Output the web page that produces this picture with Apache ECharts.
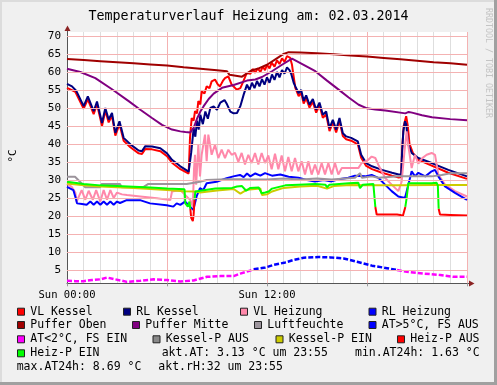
<!DOCTYPE html>
<html><head><meta charset="utf-8">
<script src="https://cdn.jsdelivr.net/npm/echarts@6/dist/echarts.min.js"></script>
<style>html,body{margin:0;padding:0;background:#F0F0F0}#c{width:497px;height:385px}</style>
</head><body><div id="c"></div>
<script>
// ---- data (x = hour of day, y = °C) ----
const yTicks = [5,10,15,20,25,30,35,40,45,50,55,60,65,70];
const xTickLabels = {0:'Sun 00:00', 12:'Sun 12:00'};
const title = 'Temperaturverlauf Heizung am: 02.03.2014';

const vlKessel = [[0,55.6],[0.5,54.5],[1.0,49.8],[1.25,52.4],[1.6,48.3],[1.8,51.0],[2.1,45.0],[2.3,49.2],[2.5,46.0],[2.7,47.8],[2.9,42.3],[3.15,45.5],[3.4,40.9],[3.8,39.1],[4.3,37.4],[4.5,37.2],[4.7,38.6],[5.1,38.5],[5.6,38.0],[6.0,36.6],[6.3,34.8],[6.8,33.0],[7.3,31.8],[7.35,32.0],[7.38,41.7],[7.48,47.2],[7.6,46.5],[7.68,49.1],[7.8,48.5],[7.88,51.9],[8.0,51.0],[8.08,54.6],[8.25,54.0],[8.38,56.0],[8.55,55.5],[8.68,57.4],[8.88,57.9],[9.05,56.5],[9.18,56.0],[9.35,57.5],[9.48,58.3],[9.68,58.8],[9.88,56.5],[10.18,55.1],[10.4,55.5],[10.58,57.4],[10.78,59.7],[11.0,59.5],[11.15,60.8],[11.28,59.8],[11.45,61.0],[11.6,60.0],[11.75,61.5],[11.88,60.5],[12.0,62.0],[12.15,61.0],[12.28,62.6],[12.45,61.5],[12.6,63.2],[12.75,62.2],[12.9,63.8],[13.05,62.8],[13.2,64.4],[13.38,64.0],[13.5,62.0],[13.58,59.3],[13.7,55.6],[13.9,53.3],[14.05,54.2],[14.2,51.2],[14.35,52.7],[14.55,50.1],[14.75,51.7],[14.95,48.7],[15.15,50.7],[15.35,47.3],[15.55,48.2],[15.75,43.6],[15.95,45.9],[16.15,43.2],[16.35,46.4],[16.55,42.2],[16.75,41.3],[17.05,40.9],[17.45,39.9],[17.65,36.2],[17.95,33.9],[18.3,33.0],[18.9,32.0],[19.5,31.2],[19.9,30.7],[20.05,30.8],[20.1,38.0],[20.2,45.0],[20.35,47.7],[20.45,45.0],[20.55,40.0],[20.75,37.5],[21.08,35.6],[21.88,34.0],[22.88,32.0],[24,30.3]];

const rlKessel = [[0,56.7],[0.3,56.0],[0.55,54.8],[1.0,50.5],[1.25,53.2],[1.6,49.1],[1.8,51.8],[2.1,45.8],[2.3,50.0],[2.5,46.8],[2.7,48.6],[2.9,43.1],[3.15,46.3],[3.4,41.7],[3.8,39.9],[4.3,38.2],[4.5,38.0],[4.7,39.4],[5.1,39.3],[5.6,38.8],[6.0,37.4],[6.3,35.6],[6.8,33.8],[7.3,32.3],[7.35,32.2],[7.45,37.5],[7.6,44.4],[7.7,42.0],[7.8,46.5],[7.9,44.0],[8.0,48.1],[8.15,45.5],[8.3,49.0],[8.45,47.0],[8.6,50.0],[8.8,50.4],[9.0,49.5],[9.2,51.5],[9.45,52.2],[9.6,51.0],[9.8,49.0],[10.0,48.5],[10.2,48.6],[10.4,50.5],[10.6,53.7],[10.8,56.5],[10.95,55.0],[11.1,57.0],[11.25,55.5],[11.4,57.5],[11.55,56.0],[11.7,58.0],[11.85,56.5],[12.0,58.5],[12.15,57.0],[12.3,59.3],[12.45,57.8],[12.6,60.0],[12.75,58.5],[12.9,60.5],[13.05,59.5],[13.2,61.3],[13.35,60.5],[13.45,59.5],[13.6,57.0],[13.7,56.0],[13.9,54.1],[14.05,55.0],[14.2,52.0],[14.35,53.5],[14.55,50.9],[14.75,52.5],[14.95,49.5],[15.15,51.5],[15.35,48.1],[15.55,49.0],[15.75,44.4],[15.95,46.7],[16.15,44.0],[16.35,47.2],[16.55,43.0],[16.75,42.1],[17.05,41.7],[17.45,40.7],[17.65,37.0],[17.95,34.7],[18.3,33.8],[18.9,32.8],[19.5,32.0],[19.9,31.5],[20.05,31.5],[20.1,37.0],[20.18,43.5],[20.28,46.3],[20.35,45.5],[20.48,39.8],[20.68,37.5],[21.08,36.1],[21.88,34.7],[22.88,32.8],[24,31.0]];

const vlHeizung = [[0,29.0],[0.28,28.1],[0.5,26.5],[0.58,24.0],[0.88,27.2],[1.1,24.5],[1.3,27.0],[1.55,24.5],[1.75,27.2],[2.0,24.0],[2.2,27.2],[2.4,24.5],[2.6,27.2],[2.8,25.0],[3.0,26.5],[3.3,26.0],[3.6,25.8],[4.4,25.4],[5.4,24.9],[6.2,24.4],[6.3,26.8],[6.8,27.2],[7.1,25.8],[7.4,24.4],[7.55,22.6],[7.62,33.0],[7.68,37.0],[7.75,28.7],[7.88,39.8],[7.98,31.0],[8.08,37.0],[8.28,42.6],[8.38,35.2],[8.48,42.6],[8.68,37.0],[8.88,39.8],[9.08,36.1],[9.28,38.4],[9.48,36.1],[9.68,38.4],[9.88,37.0],[10.08,37.5],[10.28,35.0],[10.48,37.5],[10.68,34.3],[10.88,37.0],[11.08,34.7],[11.28,37.5],[11.48,34.3],[11.68,37.5],[11.88,34.7],[12.08,36.8],[12.28,33.0],[12.48,37.3],[12.68,33.0],[12.88,36.8],[13.08,32.4],[13.28,36.4],[13.48,32.4],[13.68,36.1],[13.88,32.4],[14.08,35.2],[14.28,31.5],[14.48,35.2],[14.68,31.5],[14.88,34.3],[15.08,31.5],[15.28,34.7],[15.48,31.5],[15.68,34.7],[15.88,31.5],[16.08,34.7],[16.28,31.5],[16.48,33.3],[17.08,33.3],[17.48,33.3],[17.68,34.7],[18.08,35.6],[18.28,36.5],[18.5,36.1],[18.7,34.0],[19.08,30.6],[19.48,28.7],[19.88,26.9],[20.08,29.5],[20.25,38.0],[20.38,43.5],[20.48,39.5],[20.68,33.3],[20.88,37.0],[21.08,34.5],[21.3,36.0],[21.58,37.0],[21.88,37.5],[22.08,37.0],[22.28,31.5],[22.68,28.7],[23.28,26.9],[24,25.4]];

const rlHeizung = [[0,28.1],[0.38,27.2],[0.55,24.5],[0.6,23.5],[0.9,23.3],[1.18,23.1],[1.4,24.0],[1.6,23.1],[1.8,24.0],[2.0,23.1],[2.2,24.0],[2.4,23.1],[2.6,24.0],[2.8,23.1],[3.0,24.0],[3.18,23.6],[3.58,24.4],[4.38,24.4],[4.98,23.5],[5.98,23.0],[6.38,22.6],[6.58,23.5],[6.8,23.1],[7.08,24.0],[7.38,22.6],[7.58,21.7],[7.78,25.5],[7.98,27.7],[8.18,27.2],[8.38,29.1],[8.98,29.5],[9.58,30.5],[9.98,31.0],[10.38,31.4],[10.6,30.8],[10.8,31.8],[11.0,31.0],[11.3,31.8],[11.6,31.2],[11.88,31.9],[12.3,31.2],[12.8,31.5],[13.3,30.9],[13.88,30.6],[14.4,30.0],[14.88,29.6],[15.4,30.0],[15.88,29.6],[16.4,30.3],[16.88,30.6],[17.28,31.2],[17.88,31.0],[18.28,31.4],[18.68,30.6],[19.08,28.7],[19.48,26.9],[19.88,25.4],[20.28,25.0],[20.48,28.7],[20.68,32.4],[20.88,31.0],[21.08,32.0],[21.5,31.0],[21.88,32.4],[22.08,32.8],[22.28,31.0],[22.68,28.2],[23.28,26.4],[24,24.5]];

const pufferOben = [[0,63.6],[1,63.3],[2,63.0],[3,62.7],[4,62.4],[5,62.1],[6,61.8],[7,61.3],[8,60.9],[9,60.5],[9.6,60.2],[9.75,59.2],[9.85,58.8],[10.5,58.7],[10.8,59.6],[11.1,60.5],[11.5,61.0],[12.0,62.0],[12.5,63.5],[13.0,65.0],[13.3,65.5],[14,65.4],[15,65.2],[16,64.9],[17,64.6],[18,64.3],[19,63.9],[20,63.5],[21,63.1],[22,62.7],[23,62.4],[24,62.0]];

const pufferMitte = [[0,60.9],[0.8,60.0],[1.7,58.3],[2.7,55.2],[3.7,51.9],[4.4,49.5],[5.1,47.2],[5.7,45.3],[6.3,44.0],[6.8,43.5],[7.1,43.3],[7.4,43.2],[7.6,44.5],[7.8,47.0],[8.0,49.0],[8.2,50.5],[8.5,52.5],[8.8,54.0],[9.3,55.6],[10.0,56.4],[10.8,57.6],[11.3,57.9],[11.7,58.6],[12.3,60.2],[12.9,62.0],[13.5,63.7],[14.2,62.0],[14.9,60.2],[15.6,57.6],[16.3,55.1],[16.9,52.9],[17.5,50.9],[18.0,49.9],[18.5,49.6],[19.1,49.3],[20.3,48.5],[20.5,48.9],[20.7,48.7],[21.3,48.0],[21.9,47.4],[23,46.9],[24,46.6]];

const luftfeuchte = [[0,30.9],[0.48,30.9],[0.78,29.5],[1.08,28.0],[1.98,28.0],[2.08,28.9],[3.18,28.9],[3.28,28.0],[4.58,28.0],[4.88,28.9],[7.18,28.9],[7.98,29.5],[8.38,30.0],[9.58,30.2],[10.38,30.2],[11.0,30.1],[12.0,30.1],[13.0,30.4],[14.0,30.1],[15.0,30.4],[15.88,30.1],[17.28,30.6],[17.58,31.9],[17.7,30.6],[18.28,31.0],[18.68,30.6],[19.88,31.0],[21.88,31.0],[22.48,31.4],[23.08,31.9],[24,31.9]];

const atFsEin1 = [[0,2.0],[0.5,1.9],[1.0,1.9],[1.5,2.2],[2.0,2.4],[2.4,2.9],[2.8,2.5],[3.2,2.1],[3.6,1.7],[4.4,2.0],[5.2,2.4],[6.0,2.2],[6.8,1.8],[7.6,2.1],[8.4,3.1],[9.2,3.3],[10.0,3.3],[10.4,4.0],[10.9,4.7],[11.2,5.2]];
const atFsAus = [[11.2,5.2],[11.9,5.7],[12.4,6.4],[13.1,7.1],[13.6,7.8],[14.2,8.4],[15.1,8.6],[15.8,8.5],[16.6,8.2],[17.4,7.3],[18.3,6.2],[19.2,5.5],[19.8,5.0]];
const atFsEin2 = [[19.8,5.0],[20.4,4.5],[21.4,4.0],[22.4,3.6],[23.2,3.1],[24,3.1]];

const kesselPEin = [[0,29.0],[1,28.5],[2,28.2],[3,28.0],[4,27.8],[5,27.5],[6,27.2],[7,26.9],[7.7,26.8],[8,26.5],[9,27.1],[10,27.5],[10.4,26.2],[10.8,27.3],[11.6,27.6],[11.7,25.8],[12.0,26.0],[12.3,26.8],[13,27.8],[14,28.2],[15,28.4],[15.6,27.6],[16,28.3],[17,28.6],[18,28.5],[20,28.5],[22,28.6],[24,28.6]];

const heizPEin1 = [[0,29.5],[1,28.9],[2,28.5],[3,28.3],[4,28.1],[5,27.9],[6,27.6],[7.05,27.4],[7.1,23.5],[7.25,22.6],[7.35,24.0],[7.4,22.0]];
const heizPAus1 = [[7.4,22.0],[7.45,19.5],[7.55,18.6],[7.6,20.5],[7.65,24.5]];
const heizPEin2 = [[7.65,24.5],[7.7,26.8],[8,27.0],[8.9,27.6],[9.9,27.8],[10.2,28.2],[10.5,28.3],[10.75,27.0],[11.0,27.8],[11.5,27.9],[11.68,26.3],[11.9,26.5],[12.1,26.8],[12.3,27.6],[13.1,28.5],[13.9,28.7],[14.9,28.9],[15.5,28.7],[15.6,28.0],[15.75,28.7],[16.9,29.1],[17.48,29.2],[17.58,27.7],[17.75,28.7],[18.38,28.9],[18.45,28.6],[18.5,22.5]];
const heizPAus2 = [[18.5,22.5],[18.58,20.4],[19.0,20.4],[19.8,20.4],[19.9,20.0],[20.0,20.3],[20.15,20.0],[20.25,20.4],[20.3,22.5]];
const heizPEin3 = [[20.3,22.5],[20.38,25.0],[20.48,29.1],[21.88,29.1],[22.18,29.2],[22.25,28.5],[22.3,22.0]];
const heizPAus3 = [[22.3,22.0],[22.38,20.4],[23.0,20.3],[24,20.1]];

const legendRows = [
  [['VL Kessel','#FF0000'],['RL Kessel','#000080'],['VL Heizung','#FF88AA'],['RL Heizung','#0000FF']],
  [['Puffer Oben','#A00000'],['Puffer Mitte','#800080'],['Luftfeuchte','#9C949C'],['AT>5°C, FS AUS','#0000FF']],
  [['AT<2°C, FS EIN','#FF00FF'],['Kessel-P AUS','#888888'],['Kessel-P EIN','#CCCC00'],['Heiz-P AUS','#FF0000']],
  [['Heiz-P EIN','#00FF00']]
];
const infoTexts = ['akt.AT: 3.13 °C um 23:55','min.AT24h: 1.63 °C','max.AT24h: 8.69 °C','akt.rH:32 um 23:55'];

// ---- layout / rendering ----
const FONT = '"DejaVu Sans Mono", monospace';
const chart = echarts.init(document.getElementById('c'), null, {renderer:'canvas', width:497, height:385});

function ln(data, color, extra) {
  return Object.assign({type:'line', data, symbol:'none', showSymbol:false, animation:false, silent:true,
    clip:true, lineStyle:{color, width:2}, itemStyle:{color}, emphasis:{disabled:true}}, extra||{});
}
const dashed = c => ({lineStyle:{color:c, width:2.5, type:[5,2]}});

const series = [
  {type:'line', data:[], z:1, silent:true, animation:false,
   markLine:{silent:true, animation:false, symbol:['none','none'],
     lineStyle:{color:'#F4B2B2', width:1, type:'solid'},
     label:{show:true, position:'start', distance:6, formatter:p=>String(p.value), fontFamily:FONT, fontSize:11, color:'#000'},
     emphasis:{disabled:true},
     data: yTicks.map(v=>({yAxis:v}))}},
  ln(vlKessel,'#FF0000'),
  ln(rlKessel,'#000080'),
  ln(vlHeizung,'#FF88AA'),
  ln(rlHeizung,'#0000FF'),
  ln(pufferOben,'#A00000'),
  ln(pufferMitte,'#800080'),
  ln(luftfeuchte,'#9C949C'),
  ln(atFsAus,'#0000FF',dashed('#0000FF')),
  ln(atFsEin1,'#FF00FF',dashed('#FF00FF')),
  ln(atFsEin2,'#FF00FF',dashed('#FF00FF')),
  ln(kesselPEin,'#CCCC00'),
  ln(heizPAus1,'#FF0000'), ln(heizPAus2,'#FF0000'), ln(heizPAus3,'#FF0000'),
  ln(heizPEin1,'#00FF00'), ln(heizPEin2,'#00FF00'), ln(heizPEin3,'#00FF00')
];

const gfx = [];
// frame
gfx.push({type:'rect', shape:{x:0,y:0,width:497,height:2}, style:{fill:'#DCDCDC'}, silent:true});
gfx.push({type:'rect', shape:{x:0,y:0,width:2,height:385}, style:{fill:'#DCDCDC'}, silent:true});
gfx.push({type:'rect', shape:{x:494,y:0,width:3,height:385}, style:{fill:'#A0A0A0'}, silent:true});
gfx.push({type:'rect', shape:{x:0,y:382,width:497,height:3}, style:{fill:'#A0A0A0'}, silent:true});
// title
gfx.push({type:'text', x:248.5, y:17, silent:true, style:{text:title, font:'13.3px '+FONT, fill:'#000', textAlign:'center', textVerticalAlign:'middle', verticalAlign:'middle'}});
// unit
gfx.push({type:'text', x:13, y:156, rotation:Math.PI/2, silent:true, style:{text:'°C', font:'11px '+FONT, fill:'#000', textAlign:'center', textVerticalAlign:'middle', verticalAlign:'middle'}});
// watermark
gfx.push({type:'text', x:488, y:63, rotation:-Math.PI/2, silent:true, style:{text:'RRDTOOL / TOBI OETIKER', font:'8.3px '+FONT, fill:'#C4C4C4', textAlign:'center', textVerticalAlign:'middle', verticalAlign:'middle'}});
// arrows
gfx.push({type:'line', shape:{x1:67.5,y1:32,x2:67.5,y2:29}, style:{stroke:'#555', lineWidth:1}, silent:true});
gfx.push({type:'polygon', shape:{points:[[64.5,31],[70.5,31],[67.5,25.5]]}, style:{fill:'#8B2323'}, silent:true});
gfx.push({type:'line', shape:{x1:467,y1:283.5,x2:470,y2:283.5}, style:{stroke:'#555', lineWidth:1}, silent:true});
gfx.push({type:'polygon', shape:{points:[[469,280.5],[469,286.5],[474.5,283.5]]}, style:{fill:'#8B2323'}, silent:true});
// legend
const rowY = [311.7, 325, 339.3, 353.3];
const colSq = [[17,123,240,368.5],[17,132,254,368.5],[17,152.5,275.5,397],[17]];
rowY.forEach((y,ri)=>{
  legendRows[ri].forEach((it,ci)=>{
    const sx = colSq[ri][ci];
    gfx.push({type:'rect', shape:{x:sx+0.5,y:y-3.5,width:7,height:7}, style:{fill:it[1], stroke:'#222', lineWidth:1}, silent:true});
    gfx.push({type:'text', x:sx+13.3, y:y, silent:true, style:{text:it[0], font:'11.5px '+FONT, fill:'#000', textAlign:'left', textVerticalAlign:'middle', verticalAlign:'middle'}});
  });
});
const infoPos = [[161.7,353.3],[355,353.3],[16.7,367.3],[158.3,367.3]];
infoTexts.forEach((t,i)=>{
  gfx.push({type:'text', x:infoPos[i][0], y:infoPos[i][1], silent:true, style:{text:t, font:'11.5px '+FONT, fill:'#000', textAlign:'left', textVerticalAlign:'middle', verticalAlign:'middle'}});
});

chart.setOption({
  backgroundColor:'#F0F0F0',
  animation:false,
  grid:{left:67, right:30, top:32, bottom:101.7, show:true, backgroundColor:'#FFFFFF', borderWidth:0, containLabel:false, outerBoundsMode:'none'},
  xAxis:{type:'value', min:0, max:24, interval:6,
    axisLine:{show:true, onZero:false, lineStyle:{color:'#555', width:1}},
    axisTick:{show:true, length:3, lineStyle:{color:'#999'}},
    axisLabel:{margin:6, fontFamily:FONT, fontSize:10.5, color:'#000', formatter:v=>xTickLabels[v]||''},
    splitLine:{show:true, lineStyle:{color:'#F4B2B2', width:1}},
    minorTick:{show:false, splitNumber:6},
    minorSplitLine:{show:true, lineStyle:{color:'#DEDEDE', width:1}}},
  yAxis:{type:'value', min:1.3, max:71.1,
    axisLine:{show:true, onZero:false, lineStyle:{color:'#555', width:1}},
    axisTick:{show:false}, axisLabel:{show:false}, splitLine:{show:false}},
  series,
  graphic:{elements:gfx}
});
</script></body></html>
